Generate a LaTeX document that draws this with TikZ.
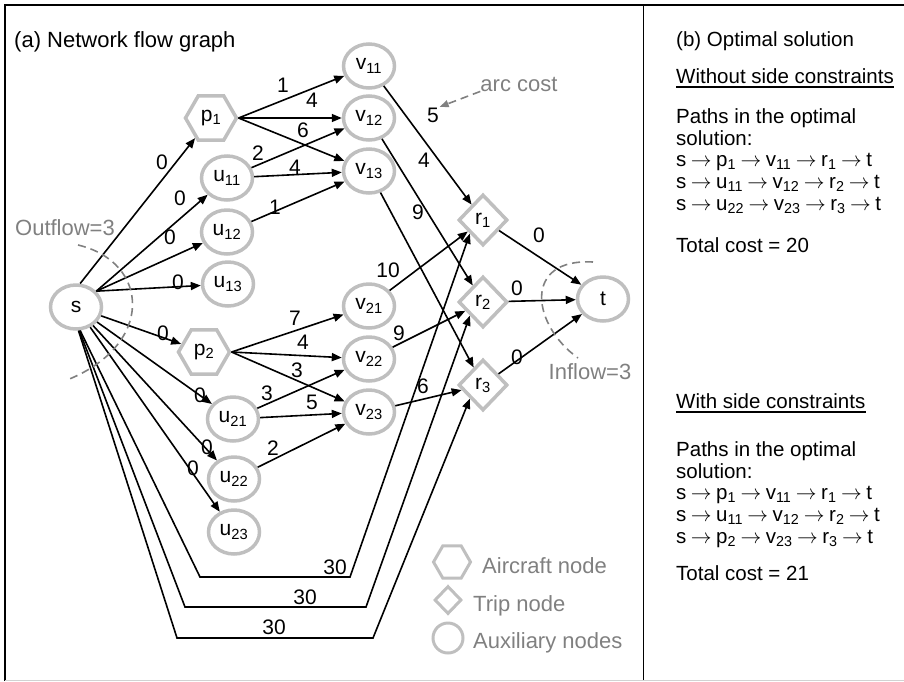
\documentclass[tikz,border=0pt]{standalone}
\usepackage{fontspec}
\setmainfont{Liberation Sans}
\usetikzlibrary{shapes.geometric,arrows.meta}
\definecolor{ngray}{RGB}{191,191,191}
\definecolor{tgray}{RGB}{128,128,128}
\newcommand\sbs[1]{\textsubscript{#1}}
\newcommand\rarr{\hspace{4.5pt}$\rightarrow$\hspace{4.5pt}}
\begin{document}
\begin{tikzpicture}[x=1pt,y=-1pt,
  every node/.style={font=\fontsize{21}{24}\selectfont, inner sep=0pt},
  aux/.style={ellipse, draw=ngray, line width=3.5pt, minimum width=51pt, minimum height=44pt},
  air/.style={regular polygon, regular polygon sides=6, draw=ngray, line width=3.5pt, minimum size=51pt},
  trip/.style={diamond, draw=ngray, line width=3.5pt, minimum width=49pt, minimum height=51pt},
  arc/.style={line width=1.6pt, -{Triangle[length=10pt,width=8pt]}},
  lbl/.style={font=\fontsize{21}{24}\selectfont},
  gtxt/.style={text=tgray, font=\fontsize{22}{26}\selectfont},
  rtxt/.style={anchor=base west, font=\fontsize{20.5}{24}\selectfont},
  gdash/.style={draw=tgray, line width=1.6pt, dash pattern=on 8pt off 5pt},
]
\useasboundingbox (0,0) rectangle (904,681);
% frame
\draw[line width=2.2pt] (4,5) -- (904,5);
\draw[line width=2.5pt] (5,4) -- (5,681);
\draw[line width=1.5pt] (643.5,5) -- (643.5,681);
\draw[ngray!70, line width=1pt] (5,680) -- (904,680);

% titles
\node[anchor=base west, font=\fontsize{22}{26}\selectfont] (ta) at (14,47) {(a) Network flow graph};

% nodes
\node[aux] (s) at (76,307) {s};
\node[air] (p1) at (211,118) {p\sbs{1}};
\node[aux] (u11) at (227,178) {u\sbs{11}};
\node[aux] (u12) at (227,232) {u\sbs{12}};
\node[aux] (u13) at (228,284) {u\sbs{13}};
\node[air] (p2) at (204,352) {p\sbs{2}};
\node[aux] (u21) at (233,419) {u\sbs{21}};
\node[aux] (u22) at (234,479) {u\sbs{22}};
\node[aux] (u23) at (234,532) {u\sbs{23}};
\node[aux] (v11) at (369,66) {v\sbs{11}};
\node[aux] (v12) at (369,118) {v\sbs{12}};
\node[aux] (v13) at (369,171) {v\sbs{13}};
\node[aux] (v21) at (369,306) {v\sbs{21}};
\node[aux] (v22) at (369,359) {v\sbs{22}};
\node[aux] (v23) at (369,412) {v\sbs{23}};
\node[trip] (r1) at (483,220) {r\sbs{1}};
\node[trip] (r2) at (483,302) {r\sbs{2}};
\node[trip] (r3) at (483,385) {r\sbs{3}};
\node[aux] (t) at (603,299) {t};

% arcs from s
\draw[arc] (s.80) -- (p1) node[lbl] (l1) at (162,162) {0};
\draw[arc] (s.38) -- (u11) node[lbl] (l2) at (180,198) {0};
\draw[arc] (s.38) -- (u12) node[lbl] (l3) at (170,237) {0};
\draw[arc] (s.38) -- (u13) node[lbl] (l4) at (178,282) {0};
\draw[arc] (s) -- (p2) node[lbl] (l5a) at (163,333) {0};
\draw[arc] (s) -- (u21) node[lbl] (l6) at (200,395) {0};
\draw[arc] (s) -- (u22) node[lbl] (l7) at (207,447) {0};
\draw[arc] (s) -- (u23) node[lbl] (l8) at (193,468) {0};

% second layer
\draw[arc] (p1.east) -- (v11) node[lbl] (l9) at (283,85) {1};
\draw[arc] (p1.east) -- (v12) node[lbl] (l10) at (312,100) {4};
\draw[arc] (p1.east) -- (v13) node[lbl] (l11) at (303,130) {6};
\draw[arc] (u11) -- (v12) node[lbl] (l12) at (258,153) {2};
\draw[arc] (u11) -- (v13) node[lbl] (l13) at (295,167) {4};
\draw[arc] (u12) -- (v13) node[lbl] (l14) at (275,207) {1};
\draw[arc] (p2.east) -- (v21) node[lbl] (l15) at (295,318) {7};
\draw[arc] (p2.east) -- (v22) node[lbl] (l16) at (303,342) {4};
\draw[arc] (p2.east) -- (v23) node[lbl] (l17) at (297,370) {3};
\draw[arc] (u21) -- (v22) node[lbl] (l18) at (267,393) {3};
\draw[arc] (u21) -- (v23) node[lbl] (l19) at (312,402) {5};
\draw[arc] (u22) -- (v23) node[lbl] (l20) at (273,448) {2};

% to trips
\draw[arc] (v11) -- (r1) node[lbl] (l5) at (433,115) {5};
\draw[arc] (v12) -- (r2) node[lbl] (l21) at (424,160) {4};
\draw[arc] (v13) -- (r3) node[lbl] (l22) at (418,212) {9};
\draw[arc] (v21) -- (r1) node[lbl] (l23) at (388,270) {10};
\draw[arc] (v22) -- (r2) node[lbl] (l24) at (399,333) {9};
\draw[arc] (v23) -- (r3) node[lbl] (l25) at (423,386) {6};

% to sink
\draw[arc] (r1) -- (t) node[lbl] (l26) at (539,235) {0};
\draw[arc] (r2) -- (t) node[lbl] (l27) at (517,288) {0};
\draw[arc] (r3) -- (t) node[lbl] (l28) at (517,357) {0};

% long arcs
\coordinate (c1a) at (200,577); \coordinate (c1b) at (350,577);
\coordinate (c2a) at (185,607); \coordinate (c2b) at (366,607);
\coordinate (c3a) at (177,638); \coordinate (c3b) at (373,638);
\draw[arc] (s.-80) -- (c1a) -- (c1b) -- (r1.south west) node[lbl] (l29) at (335,567) {30};
\draw[arc] (s.-82) -- (c2a) -- (c2b) -- (r2.south west) node[lbl] (l30) at (305,597) {30};
\draw[arc] (s.-84) -- (c3a) -- (c3b) -- (r3.south west) node[lbl] (l31) at (274,627) {30};

% annotations
\draw[gdash] (78,245) .. controls (150,262) and (155,345) .. (67,380);
\node[gtxt] (of) at (65,228) {Outflow=3};
\draw[gdash] (593,262) .. controls (522,258) and (532,325) .. (578,358);
\node[gtxt] (inf) at (590,372) {Inflow=3};
\node[gtxt] (ac) at (519,84) {arc cost};
\draw[gdash, -{Triangle[length=9pt,width=7pt]}] (ac.south west) -- (l5.north east);

% legend
\node[air, minimum size=37pt, line width=3pt] (lg1) at (452,562) {};
\node[gtxt, anchor=base west] (lt1) at (482,573) {Aircraft node};
\node[trip, minimum width=27pt, minimum height=28pt, line width=3pt] (lg2) at (448,600) {};
\node[gtxt, anchor=base west] (lt2) at (473,611) {Trip node};
\node[circle, draw=ngray, line width=3pt, minimum size=30pt] (lg3) at (448,638) {};
\node[gtxt, anchor=base west] (lt3) at (473,648) {Auxiliary nodes};

% right panel
\node[rtxt] (tb) at (676,46) {(b) Optimal solution};
\node[rtxt] (wo) at (676,83) {Without side constraints};
\draw[line width=1.3pt] ([yshift=-4pt]wo.base west) -- ([yshift=-4pt]wo.base east);
\node[rtxt] (a1) at (676,123) {Paths in the optimal};
\node[rtxt] (a2) at (676,145) {solution:};
\node[rtxt] (a3) at (676,166) {s\rarr p\sbs{1}\rarr v\sbs{11}\rarr r\sbs{1}\rarr t};
\node[rtxt] (a4) at (676,188) {s\rarr u\sbs{11}\rarr v\sbs{12}\rarr r\sbs{2}\rarr t};
\node[rtxt] (a5) at (676,210) {s\rarr u\sbs{22}\rarr v\sbs{23}\rarr r\sbs{3}\rarr t};
\node[rtxt] (a6) at (676,252) {Total cost = 20};

\node[rtxt] (wi) at (676,408) {With side constraints};
\draw[line width=1.3pt] ([yshift=-4pt]wi.base west) -- ([yshift=-4pt]wi.base east);
\node[rtxt] (b1) at (676,456) {Paths in the optimal};
\node[rtxt] (b2) at (676,478) {solution:};
\node[rtxt] (b3) at (676,499) {s\rarr p\sbs{1}\rarr v\sbs{11}\rarr r\sbs{1}\rarr t};
\node[rtxt] (b4) at (676,521) {s\rarr u\sbs{11}\rarr v\sbs{12}\rarr r\sbs{2}\rarr t};
\node[rtxt] (b5) at (676,543) {s\rarr p\sbs{2}\rarr v\sbs{23}\rarr r\sbs{3}\rarr t};
\node[rtxt] (b6) at (676,580) {Total cost = 21};
\end{tikzpicture}
\end{document}
